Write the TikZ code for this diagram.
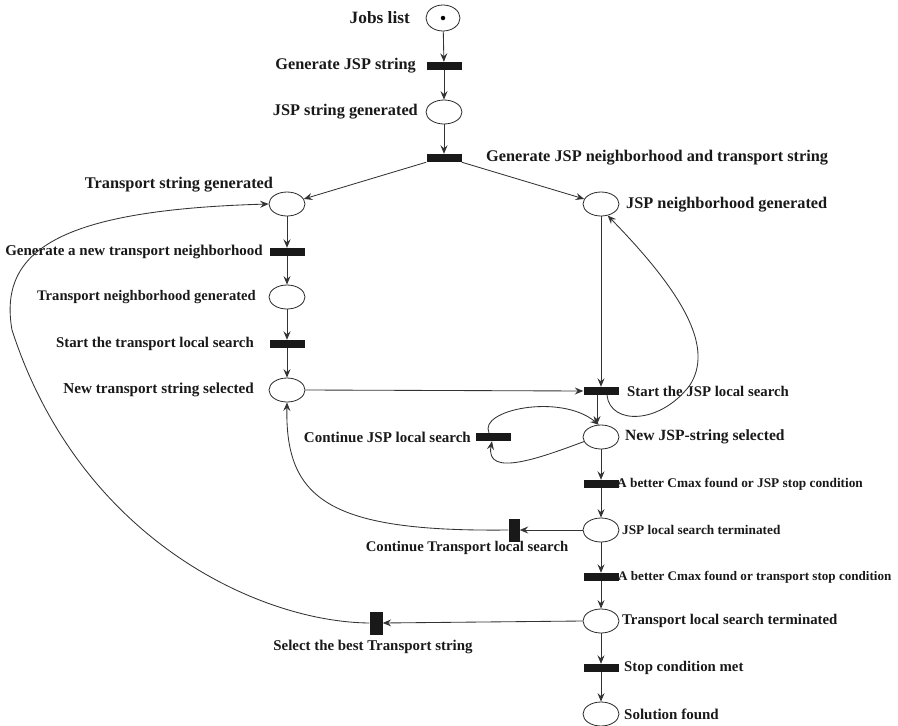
\documentclass[tikz,border=0pt]{standalone}
\usepackage{fontspec}
\setmainfont{Liberation Serif}
\usetikzlibrary{shapes.geometric,arrows.meta}
\newcommand{\fsz}[1]{\fontsize{#1}{#1}\selectfont\bfseries}
\tikzset{
  place/.style={ellipse,draw=black!85,line width=0.8pt,minimum width=36pt,minimum height=24pt,inner sep=0pt,fill=white},
  trans/.style={rectangle,fill=black!90,draw=none,minimum width=35pt,minimum height=8pt,inner sep=0pt},
  vtrans/.style={rectangle,fill=black!90,draw=none,minimum width=12pt,minimum height=23pt,inner sep=0pt},
  arc/.style={draw=black!80,line width=0.85pt,-{Stealth[length=8.5pt,width=7pt,inset=3pt]}},
  lab/.style={inner sep=0pt,text=black!90},
  lA/.style={lab,font=\fsz{16.3}},
  lB/.style={lab,font=\fsz{15}},
  lC/.style={lab,font=\fsz{13.3}},
  tok/.style={circle,fill=black,inner sep=0pt,minimum size=4.5pt}
}
\begin{document}
\begin{tikzpicture}[x=1pt,y=-1pt]
\useasboundingbox (0,0) rectangle (898,726);
% places
\node[place,minimum width=34pt,minimum height=26pt] (p1) at (443,18) {};
\node[tok] (tk) at (443,18) {};
\node[place] (p2) at (444,112) {};
\node[place] (pts) at (287,204) {};
\node[place] (pjn) at (601,204) {};
\node[place] (ptn) at (287,297) {};
\node[place] (pnts) at (287,390) {};
\node[place] (pnj) at (601,437) {};
\node[place] (pjt) at (601,530) {};
\node[place] (ptt) at (601,621) {};
\node[place] (psf) at (601,714) {};
% transitions
\node[trans] (t1) at (444,66) {};
\node[trans] (t2) at (444,158) {};
\node[trans] (tgn) at (287,252) {};
\node[trans] (tst) at (287,344) {};
\node[trans] (tsj) at (601,391) {};
\node[trans] (tcj) at (493,437) {};
\node[trans] (tbj) at (601,484) {};
\node[trans] (tbt) at (601,577) {};
\node[trans] (tsc) at (601,668) {};
\node[vtrans,minimum width=11pt] (tct) at (514,530) {};
\node[vtrans,minimum width=13pt] (tsb) at (376,623) {};
% labels
\node[lab,font=\fsz{17.3},anchor=east] (l1) at (410,18) {Jobs list};
\node[lA,anchor=east] (l2) at (416,66) {Generate JSP string};
\node[lA,anchor=east] (l3) at (418,112) {JSP string generated};
\node[lA,anchor=west] (l4) at (486,158) {Generate JSP neighborhood and transport string};
\node[lA] (l5) at (179,185) {Transport string generated};
\node[lA,anchor=west] (l6) at (626,205) {JSP neighborhood generated};
\node[lB,anchor=east] (l7) at (263,252) {Generate a new transport neighborhood};
\node[lab,font=\fsz{14.6},anchor=east] (l8) at (256,297) {Transport neighborhood generated};
\node[lab,font=\fsz{14.85},anchor=east] (l9) at (254,344) {Start the transport local search};
\node[lab,font=\fsz{15.2},anchor=east] (l10) at (254,390) {New transport string selected};
\node[lab,font=\fsz{14.8},anchor=west] (l11) at (627,391) {Start the JSP local search};
\node[lab,font=\fsz{15.6},anchor=west] (l12) at (625,437) {New JSP-string selected};
\node[lB,anchor=east] (l13) at (471,437) {Continue JSP local search};
\node[lC,anchor=west] (l14) at (617,484) {A better Cmax found or JSP stop condition};
\node[lC,anchor=west] (l15) at (622,530) {JSP local search terminated};
\node[lab,font=\fsz{13.1},anchor=west] (l16) at (618,577) {A better Cmax found or transport stop condition};
\node[lab,font=\fsz{14.8},anchor=west] (l17) at (622,621) {Transport local search terminated};
\node[lab,font=\fsz{14.8},anchor=west] (l18) at (624,668) {Stop condition met};
\node[lB,anchor=west] (l19) at (624,714) {Solution found};
\node[lab,font=\fsz{14.7}] (l20) at (467,548) {Continue Transport local search};
\node[lab,font=\fsz{14.9}] (l21) at (373,647) {Select the best Transport string};
% arcs
\draw[arc] (p1) -- (t1);
\draw[arc] (t1) -- (p2);
\draw[arc] (p2) -- (t2);
\draw[arc] (t2.south west) -- (pts);
\draw[arc] (t2.south east) -- (pjn);
\draw[arc] (pts) -- (tgn);
\draw[arc] (tgn) -- (ptn);
\draw[arc] (ptn) -- (tst);
\draw[arc] (tst) -- (pnts);
\draw[arc] (pnts.east) -- (tsj.west);
\draw[arc] (pjn) -- (tsj);
\draw[arc] ([xshift=-4pt]tsj.south) -- ([xshift=-4pt]pnj.north);
\draw[arc] ([xshift=6pt]tsj.south) .. controls (610,425) and (660,425) .. (690,385)
   .. controls (712,350) and (690,300) .. (pjn.300);
\draw[arc] (pnj.195) .. controls (540,458) and (485,478) .. ([xshift=-1pt]tcj.south);
\draw[arc] ([xshift=-4pt]tcj.north) .. controls (478,410) and (560,393) .. (pnj.100);
\draw[arc] (pnj) -- (tbj);
\draw[arc] (tbj) -- (pjt);
\draw[arc] (pjt) -- (tbt);
\draw[arc] (tbt) -- (ptt);
\draw[arc] (ptt) -- (tsc);
\draw[arc] (tsc) -- (psf);
\draw[arc] (pjt.west) -- (tct.east);
\draw[arc] (tct.west) .. controls (330,532) and (285,500) .. (pnts.south);
\draw[arc] (ptt.west) -- (tsb.east);
\draw[arc] (tsb.west) .. controls (260,622) and (80,540) .. (12,330)
   .. controls (-2,250) and (60,210) .. (pts.west);
\end{tikzpicture}
\end{document}
